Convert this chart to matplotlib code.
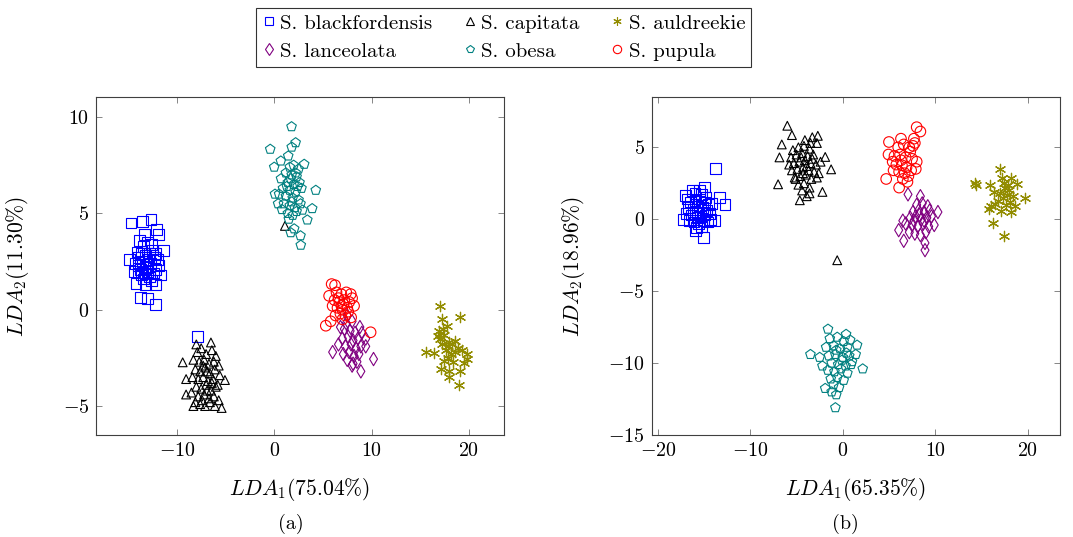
import numpy as np
import matplotlib
matplotlib.use("Agg")
import matplotlib.pyplot as plt
from matplotlib.lines import Line2D

plt.rcParams['font.family'] = ['cmr10', 'DejaVu Serif']
plt.rcParams['mathtext.fontset'] = 'cm'
plt.rcParams['axes.formatter.use_mathtext'] = True
plt.rcParams['font.size'] = 14

species = ['S. blackfordensis', 'S. lanceolata', 'S. capitata',
           'S. obesa', 'S. auldreekie', 'S. pupula']

# ---- panel (a) data (LDA1, LDA2) ----
a_blackfordensis = [
    (-14.7, 4.5), (-13.5, 4.56), (-12.65, 4.7), (-12.1, 4.18), (-11.9, 3.9), (-11.4, 3.06),
    (-14.9, 2.6), (-14.2, 1.38), (-13.7, 0.64), (-13.0, 0.59), (-12.2, 0.26), (-11.7, 1.8),
    (-12.2, 1.3), (-13.2, 1.3), (-7.9, -1.38),
    (-13.8, 3.6), (-13.4, 3.3), (-13.0, 3.5), (-12.6, 3.4), (-14.1, 3.0), (-13.6, 2.9),
    (-13.2, 2.8), (-12.8, 2.9), (-12.3, 2.7), (-14.3, 2.4), (-13.9, 2.3), (-13.5, 2.5),
    (-13.1, 2.2), (-12.7, 2.4), (-12.2, 2.1), (-11.9, 2.3), (-14.0, 1.9), (-13.6, 1.8),
    (-13.2, 1.9), (-12.8, 1.7), (-12.4, 1.9), (-13.4, 1.6), (-12.9, 2.6), (-13.7, 2.1),
    (-12.5, 3.1), (-13.3, 3.9), (-12.0, 2.6), (-14.4, 2.0), (-12.6, 1.5), (-13.9, 2.7),
    (-13.0, 2.0), (-12.2, 2.9)]
a_lanceolata = [
    (6.0, -2.2), (10.2, -2.56), (8.9, -3.2), (8.0, -2.9), (6.8, -0.9), (8.8, -0.9),
    (9.4, -1.9), (9.4, -1.5), (7.5, -0.3),
    (7.2, -1.0), (7.8, -1.1), (8.3, -1.2), (7.0, -1.5), (7.6, -1.4), (8.1, -1.6),
    (8.6, -1.5), (7.3, -1.9), (7.9, -1.8), (8.4, -2.0), (8.9, -1.9), (7.1, -2.3),
    (7.7, -2.2), (8.2, -2.4), (8.7, -2.3), (7.5, -2.6), (8.1, -2.8), (8.5, -2.7),
    (9.0, -1.2), (7.4, -0.7), (8.0, -0.6), (6.6, -1.8)]
a_capitata = [
    (-9.4, -2.73), (-6.5, -1.7), (-8.0, -1.8), (-5.06, -3.65), (-9.05, -3.6), (-9.05, -4.4),
    (-5.4, -5.1), (1.1, 4.35),
    (-7.9, -2.2), (-7.5, -2.0), (-7.0, -2.3), (-6.4, -2.1), (-6.0, -2.4), (-8.3, -2.6),
    (-7.7, -2.7), (-7.2, -2.6), (-6.7, -2.8), (-6.2, -2.7), (-5.7, -2.9), (-8.1, -3.1),
    (-7.6, -3.2), (-7.1, -3.0), (-6.6, -3.3), (-6.1, -3.1), (-5.6, -3.4), (-8.4, -3.5),
    (-7.8, -3.6), (-7.3, -3.5), (-6.8, -3.7), (-6.3, -3.6), (-5.8, -3.9), (-8.0, -4.0),
    (-7.5, -4.1), (-7.0, -3.9), (-6.5, -4.2), (-6.0, -4.0), (-8.5, -4.3), (-7.8, -4.5),
    (-7.2, -4.4), (-6.7, -4.6), (-6.2, -4.5), (-5.7, -4.7), (-8.1, -4.8), (-7.6, -4.9),
    (-7.1, -5.0), (-6.6, -4.8), (-6.1, -5.0), (-8.3, -5.0), (-7.4, -4.7), (-6.9, -4.2),
    (-6.4, -3.8), (-6.9, -3.2), (-7.3, -2.9)]
a_obesa = [
    (1.78, 9.5), (-0.41, 8.33), (2.2, 8.67), (1.8, 8.44), (0.68, 7.72), (1.44, 7.98),
    (3.08, 7.55), (0.0, 7.4), (4.27, 6.2), (3.9, 5.25), (2.9, 5.17), (3.4, 4.66),
    (2.05, 4.2), (2.7, 3.84), (2.73, 3.35), (1.7, 4.0), (0.08, 6.0), (0.4, 5.5),
    (1.6, 7.4), (2.0, 7.5), (2.5, 7.3), (1.2, 7.1), (1.8, 7.0), (2.3, 6.9), (0.7, 6.8),
    (1.4, 6.6), (2.0, 6.5), (2.6, 6.6), (0.9, 6.3), (1.6, 6.2), (2.2, 6.1), (2.8, 6.3),
    (0.5, 6.0), (1.2, 5.9), (1.9, 5.8), (2.5, 5.7), (1.0, 5.5), (1.6, 5.4), (2.1, 5.3),
    (2.7, 5.5), (1.4, 5.0), (1.9, 4.9), (2.3, 5.1), (1.7, 6.8), (2.2, 7.1), (1.3, 6.4),
    (1.8, 5.6), (2.4, 6.4), (0.8, 5.2), (1.5, 4.7)]
a_auldreekie = [
    (17.0, 0.2), (17.2, -0.5), (19.1, -0.4), (17.7, -0.87), (16.8, -1.35), (18.0, -1.7),
    (18.9, -2.0), (15.6, -2.18), (16.4, -2.25), (17.4, -2.65), (19.8, -2.55), (17.1, -3.1),
    (18.0, -3.2), (19.1, -3.2), (18.0, -3.5), (19.0, -3.9), (19.5, -2.75), (19.8, -2.3),
    (17.0, -1.5), (17.4, -1.3), (17.8, -1.9), (18.3, -1.8), (18.6, -2.2), (17.6, -2.1),
    (18.2, -2.3), (17.2, -1.8), (16.9, -1.1), (18.6, -1.6), (17.9, -2.5), (17.3, -1.0),
    (18.4, -2.7), (19.3, -2.1)]
a_pupula = [
    (5.9, 1.33), (6.25, 1.27), (5.64, 0.72), (7.86, 0.81), (8.2, 0.2), (5.3, -0.83),
    (5.8, -0.6), (9.9, -1.17), (7.9, -0.4),
    (6.4, 0.9), (6.9, 0.8), (7.4, 0.9), (6.2, 0.5), (6.7, 0.4), (7.2, 0.5), (7.7, 0.4),
    (6.5, 0.1), (7.0, 0.0), (7.5, 0.1), (6.8, -0.2), (7.3, -0.3), (6.3, -0.3), (7.1, 0.3),
    (6.6, 0.6), (7.6, -0.1), (8.0, 0.6), (7.0, -0.5), (6.0, 0.2), (6.9, 0.2)]

# ---- panel (b) data ----
b_blackfordensis = [
    (-13.8, 3.52), (-15.1, -1.27), (-12.75, 1.02), (-13.33, 1.5), (-17.3, 0.0), (-17.0, 1.67),
    (-15.0, 2.24), (-16.3, 2.0), (-13.9, -0.1), (-15.9, -0.8), (-14.2, 1.1), (-15.5, 2.0),
    (-16.8, 1.4),
    (-16.5, 1.2), (-16.0, 1.3), (-15.5, 1.4), (-15.0, 1.2), (-14.5, 1.0), (-16.7, 0.8),
    (-16.2, 0.7), (-15.7, 0.9), (-15.2, 0.8), (-14.7, 0.6), (-16.4, 0.3), (-15.9, 0.4),
    (-15.4, 0.2), (-14.9, 0.3), (-14.4, 0.4), (-16.6, -0.1), (-16.1, -0.2), (-15.6, -0.3),
    (-15.1, -0.1), (-14.6, -0.2), (-15.8, -0.6), (-15.3, -0.5), (-16.0, 1.8), (-15.3, 1.7),
    (-14.8, 1.5), (-15.7, 0.1), (-16.9, 0.4), (-14.3, 0.0)]
b_lanceolata = [
    (7.06, 1.73), (8.4, 1.6), (10.3, 0.5), (6.05, -0.76), (6.6, -1.5), (8.9, -2.15),
    (8.9, -1.65), (9.9, -0.4), (7.7, -0.1),
    (8.0, 1.0), (8.6, 1.1), (9.2, 0.9), (7.6, 0.5), (8.2, 0.6), (8.8, 0.5), (9.4, 0.6),
    (7.3, 0.1), (7.9, 0.2), (8.5, 0.0), (9.1, 0.1), (9.6, 0.2), (6.8, -0.3), (7.5, -0.4),
    (8.1, -0.5), (8.7, -0.3), (9.3, -0.5), (7.2, -0.9), (7.8, -1.0), (8.4, -1.1),
    (9.0, -0.9), (8.3, 0.3), (8.8, -0.1), (6.5, -0.1)]
b_capitata = [
    (-6.0, 6.5), (-5.5, 5.85), (-3.3, 5.7), (-2.7, 5.8), (-6.6, 5.2), (-6.85, 4.3),
    (-7.0, 2.43), (-1.9, 4.33), (-1.26, 3.47), (-2.2, 1.9), (-4.65, 1.32), (-3.6, 1.8),
    (-5.1, 2.8), (-0.6, -2.85), (-2.8, 5.3), (-2.4, 4.0),
    (-5.4, 4.8), (-4.8, 5.0), (-4.2, 5.1), (-3.6, 4.9), (-5.6, 4.3), (-5.0, 4.5),
    (-4.4, 4.6), (-3.8, 4.4), (-3.2, 4.5), (-5.3, 3.9), (-4.7, 4.0), (-4.1, 4.1),
    (-3.5, 3.9), (-2.9, 3.8), (-5.5, 3.4), (-4.9, 3.5), (-4.3, 3.6), (-3.7, 3.4),
    (-3.1, 3.3), (-5.2, 2.9), (-4.6, 3.0), (-4.0, 3.1), (-3.4, 2.8), (-2.8, 2.9),
    (-4.8, 2.4), (-4.2, 2.5), (-3.6, 2.2), (-4.4, 2.0), (-3.9, 1.6), (-4.5, 4.3),
    (-3.9, 3.7), (-4.3, 3.2), (-3.3, 4.2), (-5.8, 3.8), (-2.6, 3.2), (-4.1, 5.5),
    (-3.5, 5.3)]
b_obesa = [
    (-1.6, -7.64), (0.36, -8.0), (-3.5, -9.4), (-2.5, -9.6), (1.55, -8.75), (1.4, -9.4),
    (2.16, -10.4), (-1.9, -11.76), (-0.7, -12.2), (-0.8, -13.1), (-1.2, -12.0), (0.9, -10.1),
    (-1.4, -8.3), (-0.6, -8.2), (0.1, -8.5), (0.8, -8.4), (-1.8, -8.9), (-1.0, -8.8),
    (-0.3, -9.0), (0.5, -8.9), (-1.5, -9.5), (-0.8, -9.4), (0.0, -9.6), (0.7, -9.5),
    (-1.2, -10.0), (-0.5, -10.1), (0.3, -10.2), (-1.6, -10.5), (-0.9, -10.6), (-0.2, -10.4),
    (0.5, -10.7), (-1.3, -11.1), (-0.6, -11.0), (0.1, -11.2), (-1.0, -11.5), (-0.4, -11.7),
    (-0.1, -9.8), (-0.7, -9.1), (0.4, -9.3), (-2.2, -10.2), (1.0, -9.9)]
b_auldreekie = [
    (17.05, 3.52), (14.3, 2.55), (14.4, 2.4), (15.9, 2.4), (18.2, 2.85), (18.9, 2.45),
    (19.7, 1.48), (17.2, 2.85), (17.6, 2.15), (16.35, 1.9), (15.8, 0.7), (16.5, 1.08),
    (17.1, 0.6), (18.2, 0.5), (17.8, 1.7), (18.1, 1.2), (16.3, -0.24), (17.4, -1.18),
    (17.3, 1.5), (17.7, 1.0), (18.0, 2.0), (16.8, 1.3), (17.5, 2.5), (18.4, 1.6),
    (16.0, 0.9), (17.0, 1.8), (18.6, 0.9), (17.9, 2.4)]
b_pupula = [
    (8.0, 6.4), (8.4, 6.1), (5.0, 5.37), (6.3, 5.6), (7.7, 5.6), (4.7, 2.8), (6.1, 2.2),
    (7.0, 2.6), (8.0, 4.0), (7.9, 3.5), (4.95, 4.5), (7.3, 4.7), (6.4, 3.75),
    (6.0, 5.0), (6.6, 5.2), (7.2, 5.0), (7.6, 5.1), (5.6, 4.4), (6.2, 4.5), (6.8, 4.3),
    (7.5, 4.2), (5.8, 3.8), (6.9, 3.6), (7.4, 3.4), (6.1, 3.3), (6.7, 3.2), (7.1, 3.0),
    (5.5, 3.4), (6.5, 2.8), (5.4, 4.0), (7.8, 5.3), (6.3, 4.1)]

a_labels = (r'$LDA_1$(75.04%)', r'$LDA_2$(11.30%)')
b_labels = (r'$LDA_1$(65.35%)', r'$LDA_2$(18.96%)')

ASTERISK = (6, 2, 0)

# pgfplots-like marker styles
styles = {
    'S. blackfordensis': dict(marker='s', color='#0000ff', s=60),
    'S. lanceolata': dict(marker='d', color='#800080', s=46),
    'S. capitata': dict(marker='^', color='black', s=40),
    'S. obesa': dict(marker='p', color='#008080', s=52),
    'S. auldreekie': dict(marker=ASTERISK, color='#928c00', s=55),
    'S. pupula': dict(marker='o', color='#ff0000', s=58),
}

fig = plt.figure(figsize=(10.73, 5.37), dpi=100)
ax_a = fig.add_axes([0.0895, 0.19, 0.3802, 0.6294])
ax_b = fig.add_axes([0.6076, 0.19, 0.3802, 0.6294])

panel_a = [a_blackfordensis, a_lanceolata, a_capitata, a_obesa, a_auldreekie, a_pupula]
panel_b = [b_blackfordensis, b_lanceolata, b_capitata, b_obesa, b_auldreekie, b_pupula]


def draw(ax, groups, labels):
    for name, pts in zip(species, groups):
        st = styles[name]
        x, y = np.array(pts).T
        if st['marker'] == ASTERISK:
            ax.scatter(x, y, marker=st['marker'], s=st['s'], c=st['color'], linewidths=0.9)
        else:
            ax.scatter(x, y, marker=st['marker'], s=st['s'], facecolors='none',
                       edgecolors=st['color'], linewidths=0.8)
    ax.set_xlabel(labels[0], fontsize=15.5)
    ax.set_ylabel(labels[1], fontsize=15.5)
    ax.xaxis.set_label_coords(0.5, -0.12)
    ax.yaxis.set_label_coords(-0.16, 0.5)
    ax.tick_params(direction='in', top=True, right=True, length=4, width=0.6,
                   color='0.45', labelsize=14.4, pad=5)
    for sp in ax.spines.values():
        sp.set_linewidth(0.8)
        sp.set_color('0.25')


draw(ax_a, panel_a, a_labels)
ax_a.set_xlim(-18.3, 23.6)
ax_a.set_ylim(-6.5, 11.04)
ax_a.set_xticks([-10, 0, 10, 20])
ax_a.set_yticks([-5, 0, 5, 10])

draw(ax_b, panel_b, b_labels)
ax_b.set_xlim(-20.65, 23.5)
ax_b.set_ylim(-15, 8.5)
ax_b.set_xticks([-20, -10, 0, 10, 20])
ax_b.set_yticks([-15, -10, -5, 0, 5])

fig.text(0.271, 0.024, '(a)', ha='center', va='center', fontsize=14.5)
fig.text(0.788, 0.024, '(b)', ha='center', va='center', fontsize=14.5)

handles = []
for name in species:
    st = styles[name]
    if st['marker'] == ASTERISK:
        h = Line2D([], [], ls='none', marker=st['marker'], color=st['color'],
                   markersize=6, markeredgewidth=0.8)
    else:
        h = Line2D([], [], ls='none', marker=st['marker'], markerfacecolor='none',
                   markeredgecolor=st['color'], markersize=6, markeredgewidth=0.8)
    handles.append(h)

leg = fig.legend(handles, species, ncol=3, loc='center', bbox_to_anchor=(0.4695, 0.9305),
                 fontsize=15, frameon=True, fancybox=False, edgecolor='black',
                 handlelength=0.6, handletextpad=0.25, columnspacing=1.5,
                 labelspacing=0.45, borderpad=0.3)
leg.get_frame().set_linewidth(0.8)

fig.savefig('out.png', dpi=100)
